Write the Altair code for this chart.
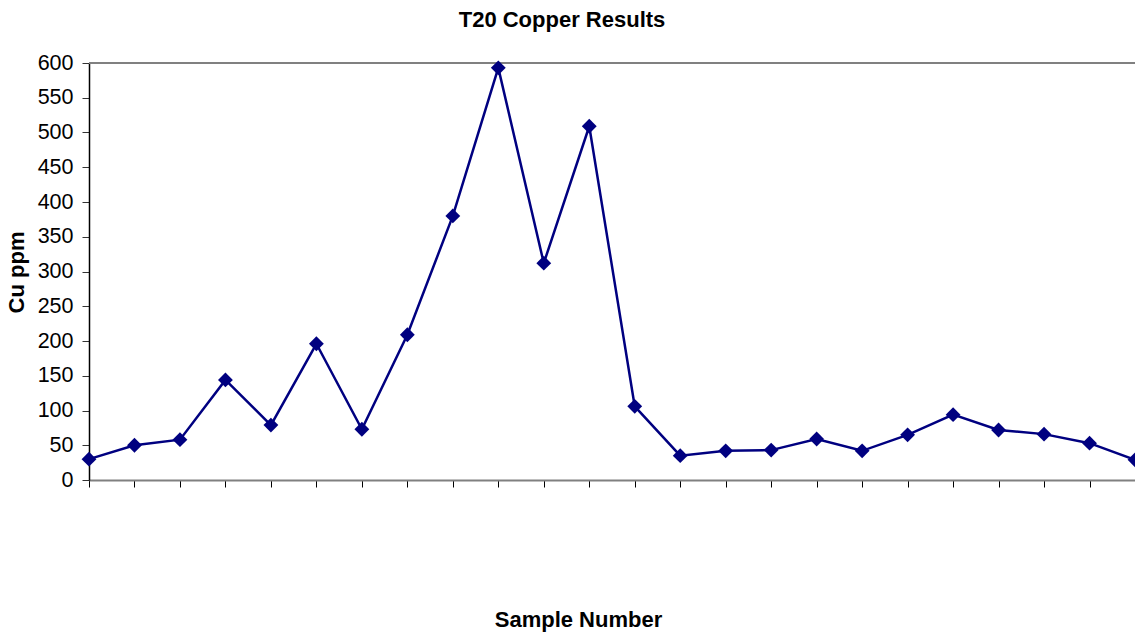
import altair as alt
import pandas as pd

samples = list(range(1, 25))
cu_ppm = [30, 50, 58, 144, 79, 196, 73, 209, 380, 593, 312, 509,
          106, 35, 42, 43, 59, 42, 65, 94, 72, 66, 53, 29]
y_ticks = list(range(0, 601, 50))

df = pd.DataFrame({"Sample": samples, "Cu": cu_ppm})

FONT = "Liberation Sans"

def y_axis():
    return alt.Axis(title="Cu ppm", values=y_ticks, labelOverlap=False,
                    tickSize=7, tickColor="#333333", domainColor="#000000",
                    domainWidth=1.5, grid=False, labelFont=FONT, labelFontSize=21.5,
                    labelColor="#000000", labelPadding=9,
                    titleFont=FONT, titleFontSize=22, titleFontWeight="bold",
                    titleColor="#000000", titleX=-61, titleY=209)

yscale = alt.Scale(domain=[0, 600], nice=False)

x = alt.X("Sample:Q",
          scale=alt.Scale(domain=[1, 24], nice=False, zero=False),
          axis=alt.Axis(title="Sample Number", values=samples, labels=False,
                        ticks=True, tickSize=7, tickColor="#000000", tickWidth=1,
                        domainColor="#808080", domainWidth=2, grid=False,
                        titleFont=FONT, titleFontSize=22, titleFontWeight="bold",
                        titleColor="#000000", titlePadding=122, titleX=489))
y = alt.Y("Cu:Q", scale=yscale, axis=y_axis())

top = alt.Chart(pd.DataFrame({"v": [600]})).mark_rule(color="#808080", strokeWidth=2).encode(
    y=alt.Y("v:Q", scale=yscale, axis=y_axis()))
line = alt.Chart(df).mark_line(color="#000080", strokeWidth=2.5).encode(x=x, y=y)
pts = alt.Chart(df).mark_point(shape="diamond", filled=True, size=220,
                               color="#000080", opacity=1).encode(x=x, y=y)

chart = alt.layer(top, line, pts).properties(
    width=1046, height=417,
    title=alt.TitleParams("T20 Copper Results", font=FONT, fontSize=22, fontWeight="bold",
                          color="#000000", anchor="middle", dx=-50, offset=20),
    autosize=alt.AutoSizeParams(type="none"),
    padding={"left": 89, "top": 63, "right": 0, "bottom": 154},
).configure_view(stroke=None).configure(background="white")

chart.save("out.html", embed_options={"renderer": "svg", "actions": False})
